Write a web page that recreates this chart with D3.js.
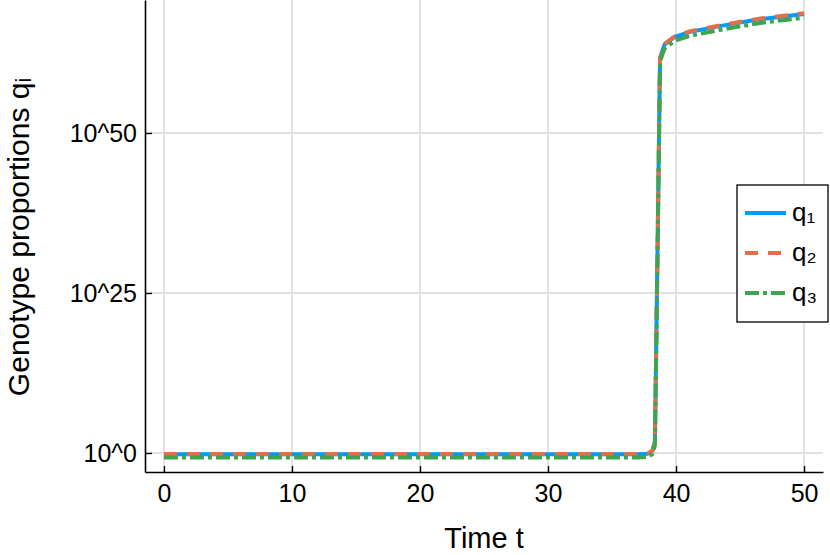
<!DOCTYPE html>
<html>
<head>
<meta charset="utf-8">
<script src="https://cdn.jsdelivr.net/npm/d3@7"></script>
<style>
  body { margin: 0; background: #fff; }
  text { font-family: "Liberation Sans", Arial, sans-serif; fill: #000; }
</style>
</head>
<body>
<script>
// Chart values (log10 of q)
var times  = [0, 2, 5, 10, 15, 20, 25, 30, 35, 37, 37.8, 38.15, 38.35, 38.55, 38.75, 39.1, 39.9, 41.1, 43.4, 46.6, 50];
var logQ1  = [-0.2, -0.2, -0.2, -0.2, -0.2, -0.2, -0.2, -0.2, -0.2, -0.2, -0.1, 0.3, 1.8, 31, 61.7, 63.8, 65.0, 65.8, 66.7, 67.8, 68.6];
var logQ2  = [-0.15, -0.15, -0.15, -0.15, -0.15, -0.15, -0.15, -0.15, -0.15, -0.15, -0.05, 0.35, 1.8, 31, 61.7, 63.9, 65.1, 65.9, 66.8, 67.9, 68.7];
var logQ3  = [-0.7, -0.7, -0.7, -0.7, -0.7, -0.7, -0.7, -0.7, -0.7, -0.7, -0.6, -0.2, 1.2, 30, 61.2, 63.2, 64.4, 65.2, 66.1, 67.2, 68.0];
var seriesNames = ["q₁", "q₂", "q₃"];
var xTicks = [0, 10, 20, 30, 40, 50];
var yTickExps = [0, 25, 50];

// Layout
var svgWidth = 830;
var svgHeight = 555;
var margin = { top: 0, right: 7, bottom: 83, left: 145 };
var chartWidth = svgWidth - margin.left - margin.right;
var chartHeight = svgHeight - margin.top - margin.bottom;

var colors = ["#009af9", "#e26f46", "#3ea44e"];
var dashes = [null, "13 10", "14 4 4 4"];

var svg = d3.select("body")
  .append("svg")
  .attr("width", svgWidth)
  .attr("height", svgHeight);

var chartGroup = svg.append("g")
  .attr("transform", `translate(${margin.left}, ${margin.top})`);

// Scales
var xScale = d3.scaleLinear()
  .domain([-1.48, 51.48])
  .range([0, chartWidth]);

var yScale = d3.scaleLog()
  .domain([Math.pow(10, -2.97), Math.pow(10, 70.78)])
  .range([chartHeight, 0]);

// Grid lines
chartGroup.append("g")
  .selectAll("line")
  .data(xTicks)
  .enter().append("line")
  .attr("x1", d => xScale(d)).attr("x2", d => xScale(d))
  .attr("y1", 0).attr("y2", chartHeight)
  .attr("stroke", "#e2e2e2").attr("stroke-width", 2);

chartGroup.append("g")
  .selectAll("line")
  .data(yTickExps)
  .enter().append("line")
  .attr("x1", 0).attr("x2", chartWidth)
  .attr("y1", d => yScale(Math.pow(10, d))).attr("y2", d => yScale(Math.pow(10, d)))
  .attr("stroke", "#e2e2e2").attr("stroke-width", 2);

// Axes (ticks point inward)
var bottomAxis = d3.axisBottom(xScale)
  .tickValues(xTicks)
  .tickSizeInner(-6)
  .tickSizeOuter(0)
  .tickPadding(12)
  .tickFormat(d3.format("d"));

var leftAxis = d3.axisLeft(yScale)
  .tickValues(yTickExps.map(e => Math.pow(10, e)))
  .tickSizeInner(-7)
  .tickSizeOuter(0)
  .tickPadding(8)
  .tickFormat(d => "10^" + Math.round(Math.log10(d)));

var xAxisG = chartGroup.append("g")
  .attr("transform", `translate(0, ${chartHeight})`)
  .call(bottomAxis);

var yAxisG = chartGroup.append("g")
  .call(leftAxis);

[xAxisG, yAxisG].forEach(function(g) {
  g.select(".domain").attr("stroke", "#000").attr("stroke-width", 1.6);
  g.selectAll(".tick line").attr("stroke", "#000").attr("stroke-width", 1.4);
  g.selectAll(".tick text")
    .style("font-family", "'Liberation Sans', Arial, sans-serif")
    .style("font-size", "25px")
    .attr("fill", "#000");
});
yAxisG.selectAll(".tick text").attr("dy", "0.36em");

// Lines
var allSeries = [logQ1, logQ2, logQ3];

var drawLine = d3.line()
  .x((d, i) => xScale(times[i]))
  .y(d => yScale(Math.pow(10, d)));

allSeries.forEach(function(vals, k) {
  chartGroup.append("path")
    .datum(vals)
    .attr("d", drawLine)
    .attr("fill", "none")
    .attr("stroke", colors[k])
    .attr("stroke-width", 4)
    .attr("stroke-linejoin", "round")
    .attr("stroke-dasharray", dashes[k]);
});

// Axis titles
svg.append("text")
  .attr("x", margin.left + xScale(25))
  .attr("y", 548)
  .attr("text-anchor", "middle")
  .style("font-size", "29px")
  .text("Time t");

svg.append("text")
  .attr("transform", `translate(29, 237) rotate(-90)`)
  .attr("text-anchor", "middle")
  .style("font-size", "30px")
  .text("Genotype proportions qᵢ");

// Legend
var legend = svg.append("g")
  .attr("transform", "translate(737, 185)");

legend.append("rect")
  .attr("x", 0).attr("y", 0)
  .attr("width", 91).attr("height", 137)
  .attr("fill", "#fff")
  .attr("stroke", "#000")
  .attr("stroke-width", 1.3);

seriesNames.forEach(function(name, k) {
  var yPos = 28 + k * 40;
  legend.append("line")
    .attr("x1", 8).attr("x2", 49)
    .attr("y1", yPos).attr("y2", yPos)
    .attr("stroke", colors[k])
    .attr("stroke-width", 4)
    .attr("stroke-dasharray", dashes[k]);
  legend.append("text")
    .attr("x", 55)
    .attr("y", yPos)
    .attr("dy", "0.3em")
    .style("font-size", "26px")
    .text(name);
});
</script>
</body>
</html>
